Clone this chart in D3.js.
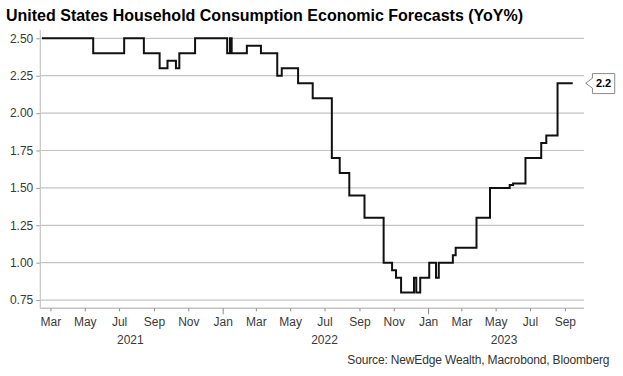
<!DOCTYPE html>
<html>
<head>
<meta charset="utf-8">
<script src="https://cdn.jsdelivr.net/npm/d3@7/dist/d3.min.js"></script>
<style>
  html, body { margin: 0; padding: 0; background: #ffffff; }
  svg { display: block; }
  text { font-family: "Liberation Sans", Arial, sans-serif; }
</style>
</head>
<body>
<svg id="chart" width="623" height="376"></svg>
<script>
// ---------- data ----------
const titleText = "United States Household Consumption Economic Forecasts (YoY%)";
const sourceText = "Source: NewEdge Wealth, Macrobond, Bloomberg";

// change points of the step series (date, forecast YoY%)
const dates = [
  "2021-02-14","2021-05-16","2021-07-10","2021-08-14","2021-09-11","2021-09-25",
  "2021-10-10","2021-10-16","2021-11-13","2022-01-09","2022-01-14","2022-01-17",
  "2022-02-13","2022-03-10","2022-04-08","2022-04-16","2022-05-15","2022-06-10",
  "2022-07-14","2022-07-28","2022-08-14","2022-09-10","2022-10-14","2022-10-29",
  "2022-11-05","2022-11-14","2022-12-07","2022-12-11","2022-12-18","2023-01-03",
  "2023-01-15","2023-01-20","2023-02-14","2023-02-19","2023-03-28","2023-04-21",
  "2023-05-26","2023-06-01","2023-06-23","2023-07-21","2023-07-30","2023-08-19",
  "2023-09-15"
];
const values = [
  2.50, 2.40, 2.50, 2.40, 2.30, 2.35,
  2.30, 2.40, 2.50, 2.40, 2.50, 2.40,
  2.45, 2.40, 2.25, 2.30, 2.20, 2.10,
  1.70, 1.60, 1.45, 1.30, 1.00, 0.95,
  0.90, 0.80, 0.90, 0.80, 0.90, 1.00,
  0.90, 1.00, 1.05, 1.10, 1.30, 1.50,
  1.52, 1.53, 1.70, 1.80, 1.85, 2.20,
  2.20
];

const yTicks = [0.75, 1.00, 1.25, 1.50, 1.75, 2.00, 2.25, 2.50];
const monthTickDates = [
  "2021-03-01","2021-05-01","2021-07-01","2021-09-01","2021-11-01",
  "2022-01-01","2022-03-01","2022-05-01","2022-07-01","2022-09-01","2022-11-01",
  "2023-01-01","2023-03-01","2023-05-01","2023-07-01","2023-09-01"
];
const yearLabels = ["2021", "2022", "2023"];
const yearLabelDates = ["2021-07-21", "2022-07-01", "2023-05-16"];
const xDomain = ["2021-02-11", "2023-10-05"];
const yDomain = [0.695, 2.555];
const lastLabel = "2.2";

// ---------- drawing ----------
const parse = d3.timeParse("%Y-%m-%d");
const series = dates.map((d, i) => ({ date: parse(d), value: values[i] }));

const svg = d3.select("#chart");
const plotL = 40.3, plotR = 584, plotT = 30.1, plotB = 308.3;

const x = d3.scaleTime().domain(xDomain.map(parse)).range([plotL, plotR]);
const y = d3.scaleLinear().domain(yDomain).range([plotB, plotT]);

// title
svg.append("text")
  .attr("x", 6).attr("y", 21.3)
  .attr("font-size", 16).attr("font-weight", "bold").attr("fill", "#000")
  .text(titleText);

// gridlines
svg.append("g").selectAll("line").data(yTicks).join("line")
  .attr("x1", plotL).attr("x2", plotR)
  .attr("y1", d => y(d)).attr("y2", d => y(d))
  .attr("stroke", "#c4c4c4").attr("stroke-width", 1.2);

// y axis
const yAxis = d3.axisLeft(y).tickValues(yTicks).tickSize(4).tickPadding(3)
  .tickFormat(d3.format(".2f"));
const gy = svg.append("g").attr("transform", `translate(${plotL},0)`).call(yAxis);
gy.select(".domain").remove();
gy.selectAll(".tick line").attr("stroke", "#999");
gy.selectAll(".tick text").attr("font-size", 12).attr("fill", "#3a3a3a")
  .attr("font-family", "Liberation Sans, Arial, sans-serif");
svg.append("line").attr("x1", plotL).attr("x2", plotL).attr("y1", plotT).attr("y2", plotB)
  .attr("stroke", "#c4c4c4").attr("stroke-width", 1.2);

// x axis
const monthFmt = d3.timeFormat("%b");
const xAxis = d3.axisBottom(x).tickValues(monthTickDates.map(parse))
  .tickSize(3).tickPadding(6).tickFormat(monthFmt);
const gx = svg.append("g").attr("transform", `translate(0,${plotB})`).call(xAxis);
gx.select(".domain").attr("stroke", "#c4c4c4").attr("stroke-width", 1.5)
  .attr("d", `M${plotL},0H${plotR}`);
gx.selectAll(".tick line").attr("stroke", "#888")
  .attr("y2", d => d.getMonth() === 0 ? 6 : 3);
gx.selectAll(".tick text").attr("font-size", 12).attr("fill", "#3a3a3a")
  .attr("font-family", "Liberation Sans, Arial, sans-serif");

// year labels under the month labels
const yearG = svg.append("g").attr("class", "years");
yearLabels.forEach((lab, i) => {
  yearG.append("text")
    .attr("x", x(parse(yearLabelDates[i])))
    .attr("y", 343.5)
    .attr("text-anchor", "middle")
    .attr("font-size", 12)
    .attr("fill", "#3a3a3a")
    .text(lab);
});

// line
const line = d3.line().x(d => x(d.date)).y(d => y(d.value)).curve(d3.curveStepAfter);
svg.append("path").datum(series)
  .attr("d", line).attr("fill", "none")
  .attr("stroke", "#111").attr("stroke-width", 2).attr("stroke-linejoin", "miter");

// end value callout
const last = series[series.length - 1];
const tipX = x(last.date) + 13, tipY = y(last.value);
const bx = tipX + 6.7, bw = 22.3, bh = 20, by = tipY - 9.6;
svg.append("path")
  .attr("d", `M${tipX},${tipY} L${bx},${tipY - 5} L${bx},${by} L${bx + bw},${by} L${bx + bw},${by + bh} L${bx},${by + bh} L${bx},${tipY + 5} Z`)
  .attr("fill", "#fff").attr("stroke", "#8a8a8a").attr("stroke-width", 1);
svg.append("text")
  .attr("x", bx + bw / 2).attr("y", tipY + 4)
  .attr("text-anchor", "middle").attr("font-size", 11).attr("font-weight", "bold")
  .attr("fill", "#000").text(lastLabel);

// source
svg.append("text")
  .attr("x", 609.3).attr("y", 364.2)
  .attr("text-anchor", "end").attr("font-size", 12).attr("fill", "#333")
  .attr("letter-spacing", -0.15)
  .text(sourceText);
</script>
</body>
</html>
